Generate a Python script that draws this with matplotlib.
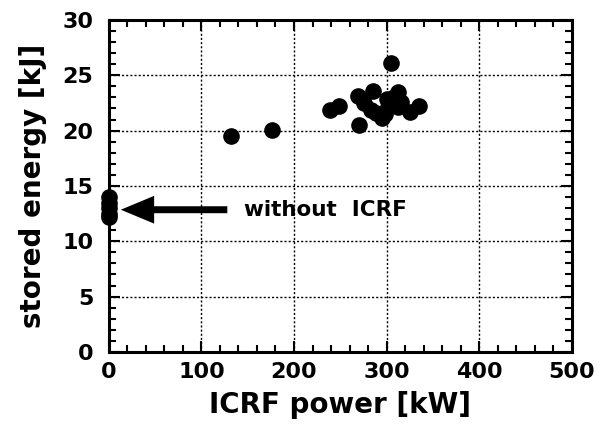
import matplotlib
matplotlib.use('Agg')
import matplotlib.pyplot as plt
from matplotlib.ticker import MultipleLocator

# ICRF heated shots
power = [132, 176, 239, 249, 270, 269, 285, 276, 283, 289, 295, 305,
         300, 308, 312, 302, 312, 325, 335, 316, 306, 298]
energy = [19.5, 20.05, 21.9, 22.2, 20.5, 23.15, 23.6, 22.5, 21.85, 21.55, 21.1, 26.1,
          22.9, 23.05, 23.5, 22.15, 22.15, 21.7, 22.2, 22.6, 22.45, 21.5]

# shots without ICRF
power0 = [0, 0, 0, 0, 0]
energy0 = [14.0, 13.5, 13.0, 12.5, 12.2]

plt.rcParams['font.family'] = ['DejaVu Sans']
plt.rcParams['font.weight'] = 'bold'

fig = plt.figure(figsize=(6.11, 4.25), dpi=100)
ax = fig.add_axes([0.178, 0.172, 0.758, 0.781])

ax.scatter(power, energy, s=120, color='black', zorder=3, clip_on=False)
ax.scatter(power0, energy0, s=120, color='black', zorder=3, clip_on=False)

# arrow pointing at the no-ICRF shots
ax.annotate('', xy=(13, 12.85), xytext=(128, 12.85),
            arrowprops=dict(arrowstyle='simple,head_length=2.4,head_width=2.0,tail_width=0.5',
                            mutation_scale=10, color='black', lw=0,
                            shrinkA=0, shrinkB=0))
ax.text(146, 12.85, 'without  ICRF', fontsize=15.5, fontweight='bold', va='center')

ax.set_xlim(0, 500)
ax.set_ylim(0, 30)
ax.xaxis.set_major_locator(MultipleLocator(100))
ax.xaxis.set_minor_locator(MultipleLocator(20))
ax.yaxis.set_major_locator(MultipleLocator(5))
ax.yaxis.set_minor_locator(MultipleLocator(1))
ax.tick_params(which='both', direction='in', top=True, right=True, width=1.5)
ax.tick_params(which='major', length=8, labelsize=16)
ax.tick_params(which='minor', length=5)
ax.tick_params(axis='x', which='major', pad=7)
ax.tick_params(axis='y', which='major', pad=11)

ax.grid(True, which='major', linestyle=(0, (1.5, 1.5)), color='black', linewidth=1)
for sp in ax.spines.values():
    sp.set_linewidth(2.2)

ax.set_xlabel('ICRF power [kW]', fontsize=20, fontweight='bold', labelpad=7)
ax.set_ylabel('stored energy [kJ]', fontsize=20, fontweight='bold', labelpad=11)

fig.savefig('out.png', dpi=100)
